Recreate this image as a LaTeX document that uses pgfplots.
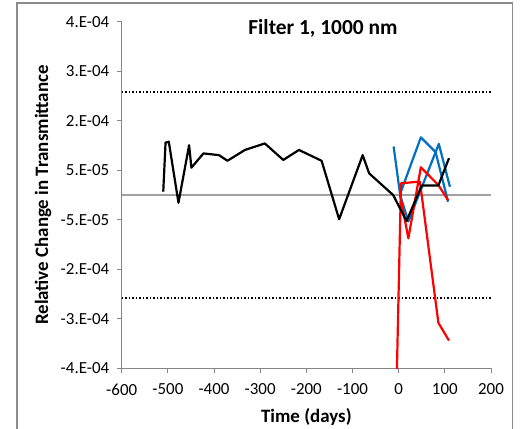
\documentclass[border=0pt]{standalone}
\usepackage{fontspec}
\setmainfont{Carlito}
\usepackage{pgfplots}
\pgfplotsset{compat=1.18}
\definecolor{xlblue}{RGB}{0,112,192}
\definecolor{xlred}{RGB}{255,0,0}
\definecolor{axgray}{RGB}{134,134,134}
\definecolor{zerogray}{RGB}{160,160,160}
\definecolor{framegray}{RGB}{140,140,140}

\begin{document}
\begin{tikzpicture}[x=1bp,y=1bp]
\useasboundingbox (0,0) rectangle (523,428);
\draw[framegray, line width=1.6bp] (17,-5) -- (17,425) -- (512.5,425) -- (512.5,-5);
\begin{axis}[
    at={(121.7bp,59.7bp)}, anchor=south west,
    scale only axis, width=369.3bp, height=346.6bp,
    xmin=-600, xmax=200, ymin=-4e-4, ymax=4e-4,
    axis lines=left,
    axis line style={-, axgray, line width=0.8bp},
    tick align=outside, major tick length=5bp,
    tick style={axgray, line width=0.8bp},
    xtick={-600,-500,-400,-300,-200,-100,0,100,200},
    xticklabels={-600,-500,-400,-300,-200,-100,0,100,200},
    ytick={-4e-4,-2.857143e-4,-1.714286e-4,-0.571429e-4,0.571429e-4,1.714286e-4,2.857143e-4,4e-4},
    yticklabels={-4.E-04,-3.E-04,-2.E-04,-5.E-05,5.E-05,2.E-04,3.E-04,4.E-04},
    scaled y ticks=false,
    tick label style={font=\fontsize{17}{17}\selectfont},
    xticklabel style={yshift=-7bp},
    yticklabel style={xshift=-4bp},
    xlabel={Time (days)},
    ylabel={Relative Change in Transmittance},
    label style={font=\fontsize{19}{19}\selectfont\bfseries},
    xlabel style={at={(axis description cs:0.5,-0.157)}, anchor=base},
    ylabel style={at={(axis description cs:-0.213,0.5)}, anchor=center},
    title={Filter 1, 1000 nm},
    title style={font=\fontsize{21.5}{21.5}\selectfont\bfseries, at={(axis description cs:0.545,0.947)}, anchor=base},
    every axis plot/.append style={line width=2.2bp, line join=round},
  ]
  % reference lines
  \addplot[zerogray, line width=1.5bp] coordinates {(-600,0) (200,0)};
  \addplot[black, line width=1.8bp, dash pattern=on 1.6bp off 1.9bp] coordinates {(-600,2.37e-4) (200,2.37e-4)};
  \addplot[black, line width=1.8bp, dash pattern=on 1.6bp off 1.9bp] coordinates {(-600,-2.37e-4) (200,-2.37e-4)};

  % blue series
  \addplot[xlblue] coordinates {(-11,1.12e-4) (3,0.02e-4) (48,1.33e-4) (80,0.99e-4) (107,-0.155e-4)};
  \addplot[xlblue] coordinates {(3,0) (21,-0.61e-4) (87,1.18e-4) (111,0.19e-4)};

  % red series
  \addplot[xlred] coordinates {(-5,-4.6e-4) (5,0.27e-4) (46,0.31e-4) (86,-2.95e-4) (109,-3.36e-4)};
  \addplot[xlred] coordinates {(3,0) (21,-1.0e-4) (48,0.64e-4) (86,0.23e-4) (107,-0.12e-4)};

  % black series
  \addplot[black] coordinates {
    (-510,0.076e-4) (-505,1.21e-4) (-498,1.23e-4) (-477,-0.18e-4) (-454,1.15e-4)
    (-449,0.63e-4) (-423,0.96e-4) (-389,0.92e-4) (-371,0.79e-4) (-333,1.04e-4)
    (-290,1.19e-4) (-250,0.81e-4) (-216,1.04e-4) (-167,0.79e-4) (-129,-0.56e-4)
    (-78,0.92e-4) (-64,0.50e-4) (-12,0) (17,-0.60e-4) (50,0.22e-4)
    (86,0.22e-4) (109,0.85e-4)};
\end{axis}
\end{tikzpicture}
\end{document}
